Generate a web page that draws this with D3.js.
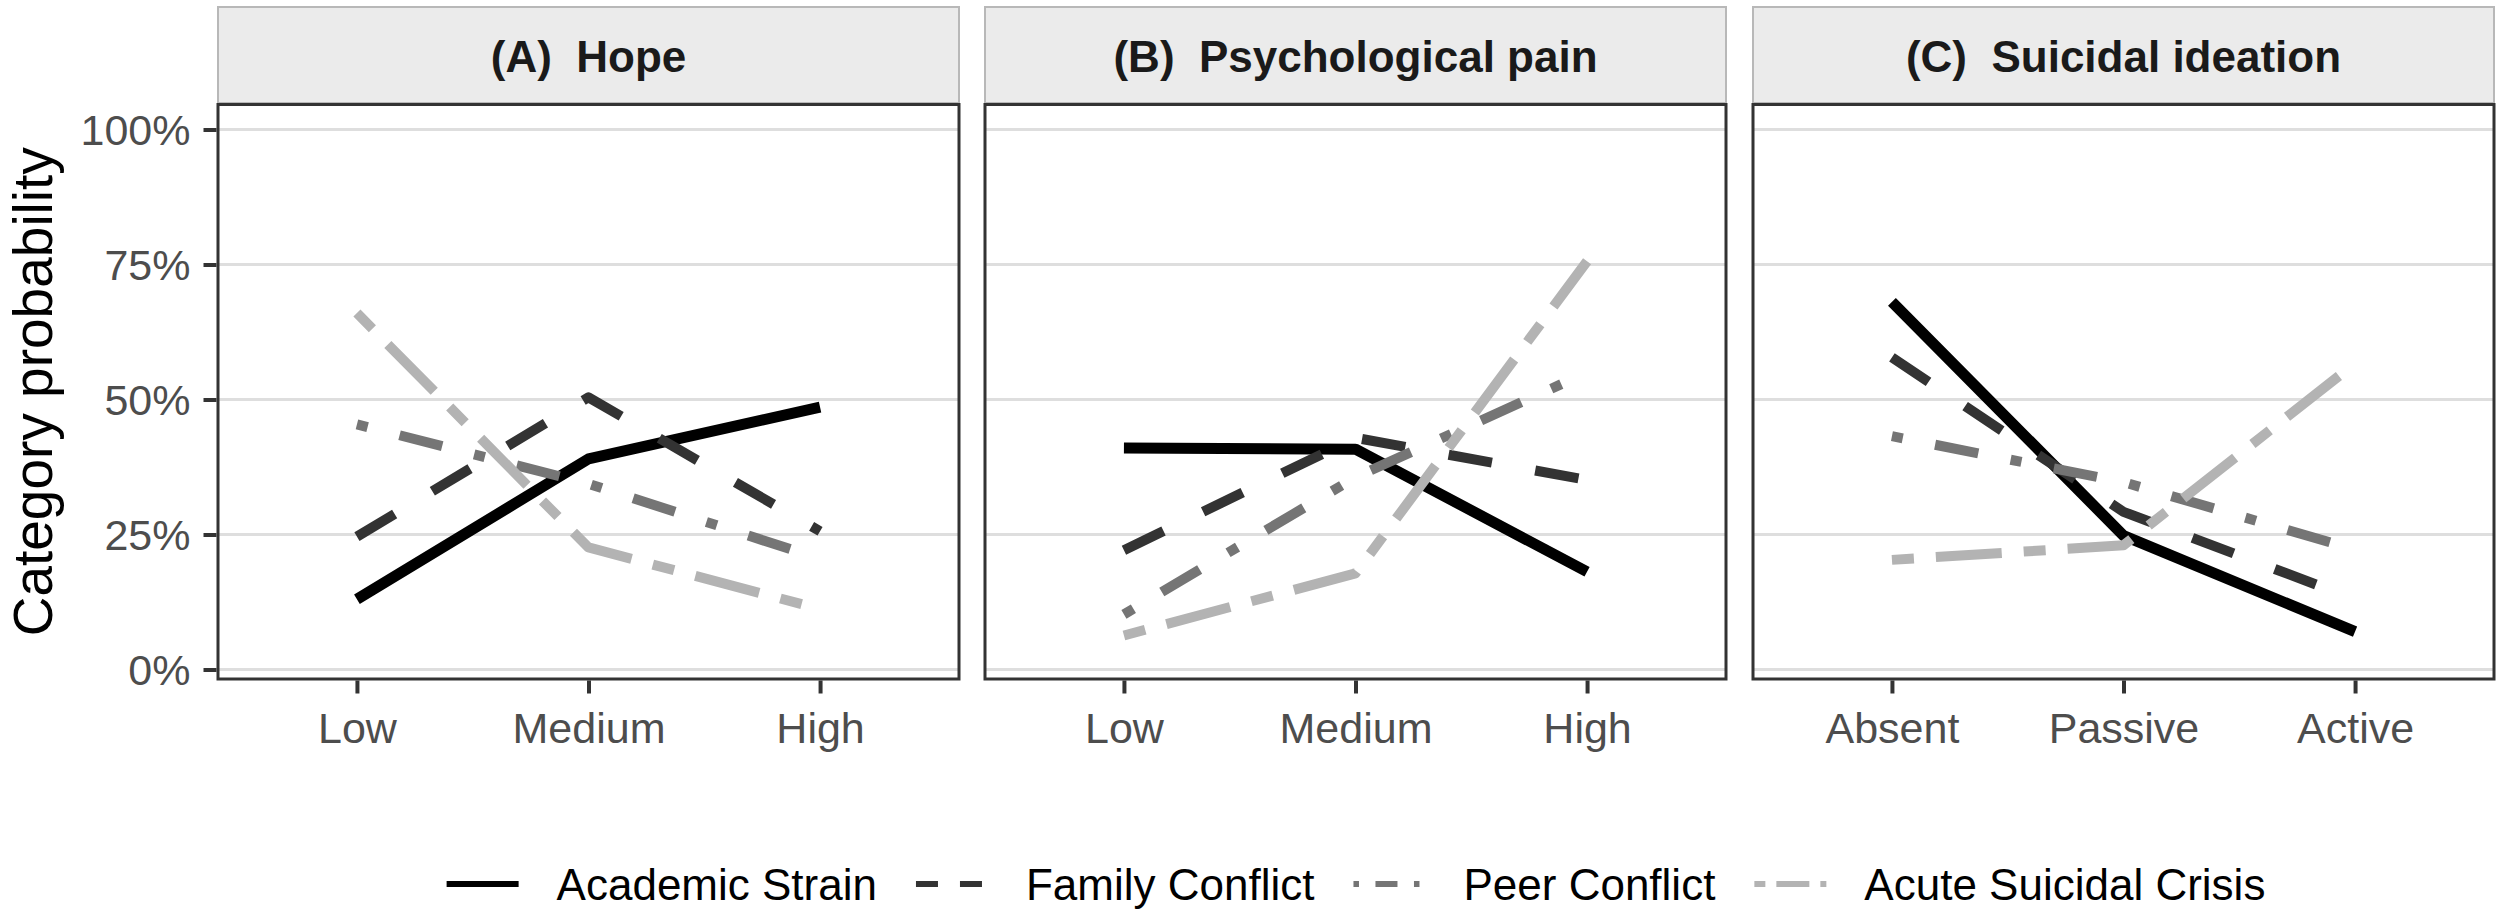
<!DOCTYPE html>
<html>
<head>
    <title>Category probability by profile</title>
    <style>
        body { margin: 0; background: #ffffff; }
        #chart text { font-family: "Liberation Sans", Arial, sans-serif; }
        .strip-label { font-weight: bold; font-size: 44px; fill: #1a1a1a; white-space: pre; }
        .tick text { font-size: 43px; fill: #4d4d4d; }
        .tick line { stroke: #333333; stroke-width: 4; }
        .legend-label { font-size: 44px; fill: #000000; }
        .y-label { font-size: 55px; fill: #000000; }
    </style>
    <script src="https://d3js.org/d3.v7.min.js"></script>
</head>
<body>
    <div id="chart"></div>
    <script>
        // facets and their category levels
        var panelTitles = ["(A)  Hope", "(B)  Psychological pain", "(C)  Suicidal ideation"];
        var panelLevels = [
            ["Low", "Medium", "High"],
            ["Low", "Medium", "High"],
            ["Absent", "Passive", "Active"]
        ];

        // profiles (legend order)
        var profiles = ["Academic Strain", "Family Conflict", "Peer Conflict", "Acute Suicidal Crisis"];

        // probabilities per profile, one row per panel
        var academicStrain = [[0.130, 0.390, 0.486], [0.410, 0.408, 0.181], [0.681, 0.248, 0.070]];
        var familyConflict = [[0.246, 0.504, 0.256], [0.221, 0.429, 0.351], [0.578, 0.292, 0.130]];
        var peerConflict   = [[0.454, 0.344, 0.205], [0.102, 0.356, 0.550], [0.432, 0.347, 0.222]];
        var acuteCrisis    = [[0.660, 0.226, 0.112], [0.063, 0.178, 0.756], [0.203, 0.230, 0.567]];

        var yTicks = [0, 0.25, 0.5, 0.75, 1];

        var seriesValues = [academicStrain, familyConflict, peerConflict, acuteCrisis];
        var colors = ["#000000", "#333333", "#757575", "#b3b3b3"];
        var dashUnits = [null, [4, 4], [1, 3, 4, 3], [2, 2, 6, 2]];

        var width = 2500, height = 918;
        var panelLeft = [218, 985, 1753];
        var panelWidth = 741;
        var panelTop = 104.5, panelBottom = 679;
        var stripTop = 7;

        var svg = d3.select("#chart").append("svg")
            .attr("width", width)
            .attr("height", height);

        var y = d3.scaleLinear()
            .domain([-0.0176, 1.0463])
            .range([panelBottom, panelTop]);

        function dashArray(i, unit) {
            if (!dashUnits[i]) return null;
            return dashUnits[i].map(function(d) { return d * unit; }).join(",");
        }

        panelTitles.forEach(function(title, p) {
            var x = d3.scalePoint()
                .domain(panelLevels[p])
                .range([panelLeft[p], panelLeft[p] + panelWidth])
                .padding(0.6);

            var g = svg.append("g");

            // strip
            g.append("rect")
                .attr("x", panelLeft[p])
                .attr("y", stripTop)
                .attr("width", panelWidth)
                .attr("height", panelTop - stripTop - 1.5)
                .attr("fill", "#ebebeb")
                .attr("stroke", "#b8b8b8")
                .attr("stroke-width", 2);

            g.append("text")
                .attr("class", "strip-label")
                .attr("x", panelLeft[p] + panelWidth / 2)
                .attr("y", 72)
                .attr("text-anchor", "middle")
                .text(title);

            // grid
            g.selectAll(".grid")
                .data(yTicks)
                .enter()
                .append("line")
                .attr("x1", panelLeft[p])
                .attr("x2", panelLeft[p] + panelWidth)
                .attr("y1", function(d) { return y(d); })
                .attr("y2", function(d) { return y(d); })
                .attr("stroke", "#dedede")
                .attr("stroke-width", 3);

            // lines
            profiles.forEach(function(name, s) {
                var line = d3.line()
                    .x(function(d, i) { return x(panelLevels[p][i]); })
                    .y(function(d) { return y(d); });

                g.append("path")
                    .datum(seriesValues[s][p])
                    .attr("d", line)
                    .attr("fill", "none")
                    .attr("stroke", colors[s])
                    .attr("stroke-width", s === 0 ? 11 : 10)
                    .attr("stroke-linejoin", "round")
                    .attr("stroke-linecap", "butt")
                    .attr("stroke-dasharray", dashArray(s, 11));
            });

            // border
            g.append("rect")
                .attr("x", panelLeft[p])
                .attr("y", panelTop)
                .attr("width", panelWidth)
                .attr("height", panelBottom - panelTop)
                .attr("fill", "none")
                .attr("stroke", "#333333")
                .attr("stroke-width", 3);

            // x axis
            var xAxis = g.append("g")
                .attr("transform", "translate(0," + (panelBottom + 1.5) + ")")
                .call(d3.axisBottom(x).tickSize(13).tickPadding(19));
            xAxis.select(".domain").remove();

            // y axis, first panel only
            if (p === 0) {
                var yAxis = g.append("g")
                    .attr("transform", "translate(" + (panelLeft[p] - 1.5) + ",0)")
                    .call(d3.axisLeft(y).tickValues(yTicks).tickFormat(d3.format(".0%")).tickSize(13).tickPadding(13));
                yAxis.select(".domain").remove();
                yAxis.selectAll(".tick text").attr("dy", "0.36em");
            }
        });

        svg.append("text")
            .attr("class", "y-label")
            .attr("transform", "translate(52," + ((panelTop + panelBottom) / 2) + ") rotate(-90)")
            .attr("text-anchor", "middle")
            .text("Category probability");

        // legend
        var legendY = 884;
        var keyLength = 72;
        var legend = svg.append("g");
        var cursor = 0;
        profiles.forEach(function(name, s) {
            var item = legend.append("g").attr("transform", "translate(" + cursor + ",0)");
            item.append("line")
                .attr("x1", 0)
                .attr("x2", keyLength)
                .attr("y1", legendY)
                .attr("y2", legendY)
                .attr("stroke", colors[s])
                .attr("stroke-width", 6)
                .attr("stroke-dasharray", dashArray(s, 5.5));
            var label = item.append("text")
                .attr("class", "legend-label")
                .attr("x", keyLength + 38)
                .attr("y", legendY + 16)
                .text(name);
            cursor += keyLength + 38 + label.node().getComputedTextLength() + 39;
        });
        var legendWidth = cursor - 39;
        var centre = (panelLeft[0] + panelLeft[2] + panelWidth) / 2;
        legend.attr("transform", "translate(" + (centre - legendWidth / 2) + ",0)");
    </script>
</body>
</html>
